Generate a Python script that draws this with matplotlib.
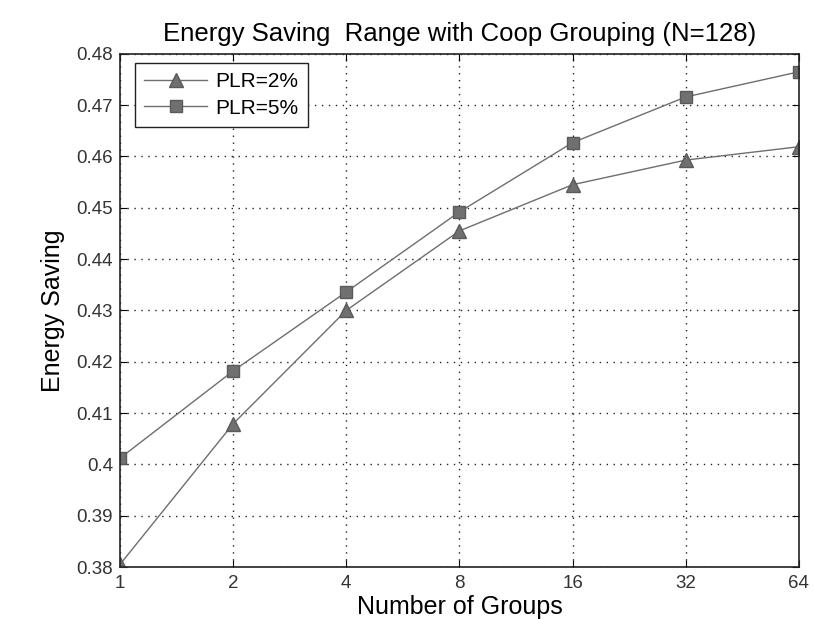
import matplotlib
matplotlib.use("Agg")
import matplotlib.pyplot as plt
from matplotlib.ticker import FixedLocator, FixedFormatter, NullLocator

plt.rcParams['font.family'] = ['Liberation Sans', 'DejaVu Sans']

groups = [1, 2, 4, 8, 16, 32, 64]
plr2 = [0.3805, 0.4079, 0.4300, 0.4455, 0.4545, 0.4593, 0.4619]
plr5 = [0.4012, 0.4182, 0.4336, 0.4492, 0.4627, 0.4716, 0.4765]
yticks = [0.38, 0.39, 0.40, 0.41, 0.42, 0.43, 0.44, 0.45, 0.46, 0.47, 0.48]
ytick_labels = ['0.38', '0.39', '0.4', '0.41', '0.42', '0.43', '0.44', '0.45', '0.46', '0.47', '0.48']
xtick_labels = ['1', '2', '4', '8', '16', '32', '64']

fig = plt.figure(figsize=(8.14, 6.19), dpi=100)
ax = fig.add_axes([0.1474, 0.084, 0.834, 0.829])

ax.plot(groups, plr2, color='#6e6e6e', lw=1.0, marker='^', ms=10,
        markerfacecolor='#707070', markeredgecolor='#5a5a5a', label='PLR=2%')
ax.plot(groups, plr5, color='#6e6e6e', lw=1.0, marker='s', ms=9,
        markerfacecolor='#707070', markeredgecolor='#5a5a5a', label='PLR=5%')

ax.set_xscale('log', base=2)
ax.set_xlim(1, 64)
ax.set_ylim(0.38, 0.48)
ax.xaxis.set_major_locator(FixedLocator(groups))
ax.xaxis.set_major_formatter(FixedFormatter(xtick_labels))
ax.xaxis.set_minor_locator(NullLocator())
ax.set_yticks(yticks)
ax.set_yticklabels(ytick_labels)

ax.grid(True, linestyle=(0, (1, 4)), color='#222222', linewidth=1.0)
ax.tick_params(direction='in', top=True, right=True, labelsize=13.5,
               labelcolor='#333333', length=5)
ax.tick_params(axis='x', pad=6)
ax.tick_params(axis='y', pad=5)
for s in ax.spines.values():
    s.set_color('#222222')
    s.set_linewidth(1.2)

ax.set_title('Energy Saving  Range with Coop Grouping (N=128)', fontsize=18.5, pad=9)
ax.set_xlabel('Number of Groups', fontsize=18, labelpad=2)
ax.set_ylabel('Energy Saving', fontsize=18, labelpad=8)

leg = ax.legend(loc='upper left', fontsize=15, fancybox=False, edgecolor='#222222',
                framealpha=1, handlelength=3.0, borderpad=0.45, labelspacing=0.35,
                handletextpad=0.4, borderaxespad=0,
                bbox_to_anchor=(0.022, 0.982))
leg.get_frame().set_linewidth(1.0)

fig.savefig('out.png', dpi=100)
